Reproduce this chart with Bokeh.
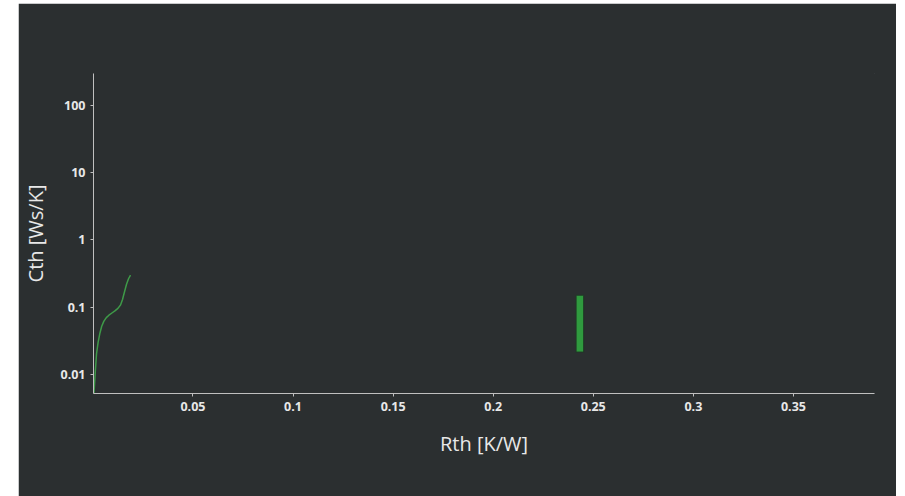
from bokeh.plotting import figure
from bokeh.layouts import row, column
from bokeh.models import Spacer, FixedTicker, Range1d
from bokeh.embed import file_html
from bokeh.resources import INLINE

# Data
rth_curve = [0.0005, 0.0008, 0.0012, 0.0018, 0.0026, 0.0035, 0.0044, 0.0055, 0.0067, 0.0080,
             0.0095, 0.0110, 0.0125, 0.0138, 0.0148, 0.0158, 0.0168, 0.0178, 0.0188]
cth_curve = [0.0051, 0.0070, 0.0110, 0.0200, 0.0300, 0.0410, 0.0520, 0.0620, 0.0700, 0.0760,
             0.0820, 0.0880, 0.0960, 0.1080, 0.1300, 0.1700, 0.2200, 0.2650, 0.3000]

bar_rth = [0.2433]
bar_width = [0.0038]
bar_bottom = [0.0215]
bar_top = [0.151]

x_ticks = [0.05, 0.1, 0.15, 0.2, 0.25, 0.3, 0.35]
y_ticks = [0.01, 0.1, 1, 10, 100]

BG = "#2b2f30"
TXT = "#e8e8e8"

p = figure(width=878, height=493, y_axis_type="log",
           x_range=Range1d(0.0003, 0.3905), y_range=Range1d(0.0052, 300),
           output_backend="svg", toolbar_location=None,
           background_fill_color=BG, border_fill_color=BG,
           outline_line_color=BG, outline_line_width=1, outline_line_alpha=1,
           min_border_left=75, min_border_right=22, min_border_top=70, min_border_bottom=103)
p.grid.visible = False

p.line(rth_curve, cth_curve, line_color="#3e9a48", line_width=1.5)
p.vbar(x=bar_rth, width=bar_width, bottom=bar_bottom, top=bar_top,
       fill_color="#2f9a3e", line_color="#1f3a25", line_width=1)

p.xaxis.ticker = FixedTicker(ticks=x_ticks)
p.yaxis.ticker = FixedTicker(ticks=y_ticks)
p.yaxis.major_label_overrides = {0.01: "0.01", 0.1: "0.1", 1: "1", 10: "10", 100: "100"}
p.xaxis.major_label_overrides = {t: f"{t:g}" for t in x_ticks}

for ax in (p.xaxis, p.yaxis):
    ax.axis_line_color = "#bfbfbf"
    ax.axis_line_width = 1
    ax.major_tick_line_color = "#bfbfbf"
    ax.major_tick_in = 0
    ax.major_tick_out = 3
    ax.minor_tick_line_color = None
    ax.major_label_text_color = TXT
    ax.major_label_text_font = "Open Sans"
    ax.major_label_text_font_size = "12.5px"
    ax.major_label_text_font_style = "bold"
    ax.axis_label_text_color = TXT
    ax.axis_label_text_font = "Open Sans"
    ax.axis_label_text_font_size = "20px"
    ax.axis_label_text_font_style = "normal"

p.xaxis.axis_label = "Rth [K/W]"
p.yaxis.axis_label = "Cth [Ws/K]"
p.xaxis.axis_label_standoff = 16
p.yaxis.axis_label_standoff = 8
p.xaxis.major_label_standoff = 5
p.yaxis.major_label_standoff = 5

layout = column(Spacer(width=10, height=3),
                row(Spacer(width=18, height=10), p, spacing=0), spacing=0)
open("out.html", "w").write(file_html(layout, INLINE))
